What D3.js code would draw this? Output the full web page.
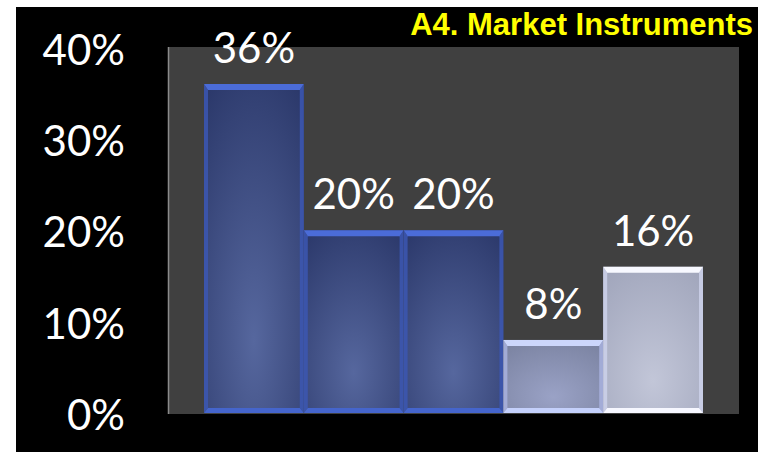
<!DOCTYPE html>
<html>
<head>
<meta charset="utf-8">
<script src="https://cdn.jsdelivr.net/npm/d3@7"></script>
<style>
  html, body { margin: 0; padding: 0; background: #ffffff; }
  svg { display: block; }
</style>
</head>
<body>
<svg id="chart" width="758" height="452"></svg>
<script>
// Chart data
const categories = ["Instrument 1", "Instrument 2", "Instrument 3", "Instrument 4", "Instrument 5"];
const shares = [36, 20, 20, 8, 16];
const yTicks = [0, 10, 20, 30, 40];
const tickLabels = ["0%", "10%", "20%", "30%", "40%"];
const titleText = "A4. Market Instruments";

// Bar finish per category: blue, blue, blue, lavender, silver
const finishes = ["blue", "blue", "blue", "lavender", "silver"];
const palette = {
  blue:     { top: "#4b6cd8", side: "#3c57b2", bottom: "#4565cc", inner: "#56679e", outer: "#2b386a" },
  lavender: { top: "#ccd6fb", side: "#a8b2de", bottom: "#c4d0fb", inner: "#9aa2c6", outer: "#79819f" },
  silver:   { top: "#f7f8ff", side: "#cdd1ea", bottom: "#f6f7ff", inner: "#c2c6d8", outer: "#a0a5bb" }
};

const W = 758, H = 452;
const svg = d3.select("#chart");

// Page frame: white margin on the left and top, black card behind the chart
svg.append("rect").attr("x", 16).attr("y", 7).attr("width", W - 16).attr("height", H - 7).attr("fill", "#000000");

const plot = { left: 168, right: 739, top: 47, bottom: 414 };

const x = d3.scaleBand()
  .domain(categories)
  .range([plot.left + 36, plot.right - 36])
  .paddingInner(0)
  .paddingOuter(0);

const y = d3.scaleLinear()
  .domain([0, 40])
  .range([413, 47.5]);

// Plot background
svg.append("rect")
  .attr("x", plot.left).attr("y", plot.top)
  .attr("width", plot.right - plot.left).attr("height", plot.bottom - plot.top)
  .attr("fill", "#404040");

// Left axis line
svg.append("line")
  .attr("x1", plot.left + 0.5).attr("x2", plot.left + 0.5)
  .attr("y1", plot.top).attr("y2", plot.bottom)
  .attr("stroke", "#8a8a8a").attr("stroke-width", 1.5);

// Gradients for bar bodies
const defs = svg.append("defs");
Object.entries(palette).forEach(([name, p]) => {
  const g = defs.append("radialGradient")
    .attr("id", "body-" + name)
    .attr("cx", 0.5).attr("cy", 0.72).attr("r", 0.85)
    .attr("fx", 0.5).attr("fy", 0.78);
  g.append("stop").attr("offset", "0%").attr("stop-color", p.inner);
  g.append("stop").attr("offset", "100%").attr("stop-color", p.outer);
});

// Bevelled bars
const bevelTop = 6, bevelSide = 4, bevelBottom = 5;
const bars = svg.append("g").selectAll("g.bar")
  .data(categories.map((c, i) => ({ c, v: shares[i], f: finishes[i] })))
  .join("g").attr("class", "bar");

bars.each(function (d) {
  const g = d3.select(this);
  const p = palette[d.f];
  const x0 = x(d.c), x1 = x(d.c) + x.bandwidth();
  const y0 = y(d.v), y1 = y(0);

  g.append("rect")
    .attr("x", x0).attr("y", y0)
    .attr("width", x1 - x0).attr("height", y1 - y0)
    .attr("fill", "url(#body-" + d.f + ")");

  const poly = pts => pts.map(q => q.join(",")).join(" ");
  // left side
  g.append("polygon").attr("fill", p.side).attr("opacity", 0.85)
    .attr("points", poly([[x0, y0], [x0 + bevelSide, y0 + bevelTop], [x0 + bevelSide, y1 - bevelBottom], [x0, y1]]));
  // right side
  g.append("polygon").attr("fill", p.side).attr("opacity", 0.85)
    .attr("points", poly([[x1, y0], [x1 - bevelSide, y0 + bevelTop], [x1 - bevelSide, y1 - bevelBottom], [x1, y1]]));
  // top
  g.append("polygon").attr("fill", p.top)
    .attr("points", poly([[x0, y0], [x1, y0], [x1 - bevelSide, y0 + bevelTop], [x0 + bevelSide, y0 + bevelTop]]));
  // bottom
  g.append("polygon").attr("fill", p.bottom)
    .attr("points", poly([[x0, y1], [x1, y1], [x1 - bevelSide, y1 - bevelBottom], [x0 + bevelSide, y1 - bevelBottom]]));
});

// Value labels above bars
const labelFont = "Lato, 'Open Sans', sans-serif";
svg.append("g").selectAll("text")
  .data(categories.map((c, i) => ({ c, v: shares[i] })))
  .join("text")
  .attr("x", d => x(d.c) + x.bandwidth() / 2)
  .attr("y", d => y(d.v) - 21)
  .attr("text-anchor", "middle")
  .attr("fill", "#ffffff")
  .attr("font-family", labelFont)
  .attr("font-size", 42)
  .text(d => d.v + "%");

// Y axis tick labels
svg.append("g").selectAll("text")
  .data(yTicks)
  .join("text")
  .attr("x", 125)
  .attr("y", d => y(d) + 17)
  .attr("text-anchor", "end")
  .attr("fill", "#ffffff")
  .attr("font-family", labelFont)
  .attr("font-size", 42)
  .text((d, i) => tickLabels[i]);

// Title
svg.append("text")
  .attr("x", 753).attr("y", 35)
  .attr("text-anchor", "end")
  .attr("fill", "#ffff00")
  .attr("font-family", "'Liberation Sans', Arial, sans-serif")
  .attr("font-weight", "bold")
  .attr("font-size", 31)
  .text(titleText);
</script>
</body>
</html>
